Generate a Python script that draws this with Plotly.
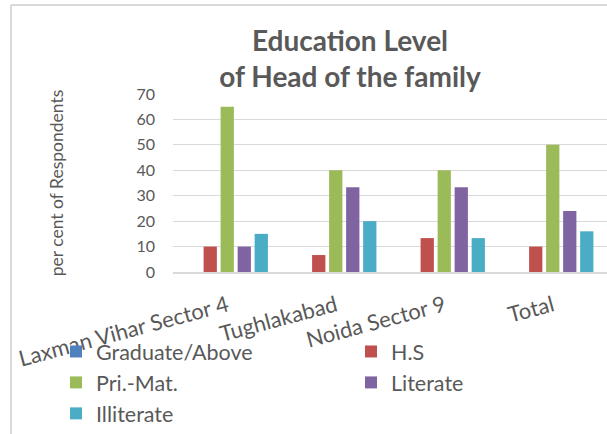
import plotly.graph_objects as go

categories = ["Laxman Vihar Sector 4", "Tughlakabad", "Noida Sector 9", "Total"]
graduate_above = [0, 0, 0, 0]
hs = [10, 6.67, 13.33, 10]
pri_mat = [65, 40, 40, 50]
literate = [10, 33.33, 33.33, 24]
illiterate = [15, 20, 13.33, 16]
y_ticks = [0, 10, 20, 30, 40, 50, 60, 70]

series = [
    ("Graduate/Above", graduate_above, "#4F81BD", "legend"),
    ("H.S", hs, "#C0504D", "legend2"),
    ("Pri.-Mat.", pri_mat, "#9BBB59", "legend"),
    ("Literate", literate, "#8064A2", "legend2"),
    ("Illiterate", illiterate, "#4BACC6", "legend"),
]

FONT = "Lato, Carlito, Calibri, sans-serif"
GREY = "#595959"
W, H = 607, 434
L, R, T, B = 173, 0, 94, 162
pw, ph = W - L - R, H - T - B

fig = go.Figure()
for name, vals, color, lg in series:
    fig.add_trace(go.Bar(name=name, x=categories, y=vals, marker_color=color,
                         marker_line_width=0, legend=lg))

def px_x(px):
    return (px - L) / pw

def px_y(py):
    return (H - B - py) / ph

fig.update_layout(
    width=W, height=H,
    margin=dict(l=L, r=R, t=T, b=B, autoexpand=False),
    paper_bgcolor="white", plot_bgcolor="white",
    barmode="group", bargap=0.216, bargroupgap=0.22,
    font=dict(family=FONT, color=GREY),
    title=dict(text="Education Level<br>of Head of the family",
               font=dict(family=FONT, size=28, color=GREY, weight="bold"),
               x=350 / W, xanchor="center", y=1 - 51 / H, yanchor="middle",
               xref="container", yref="container"),
    xaxis=dict(showline=True, linecolor="#d9d9d9", linewidth=1.5,
               tickangle=-15, tickfont=dict(size=22, color=GREY),
               ticks="", showgrid=False, ticklabelstandoff=11,
               automargin=False),
    yaxis=dict(range=[0, 70], tickvals=y_ticks, showline=False,
               gridcolor="#d9d9d9", gridwidth=1.3, zeroline=False,
               tickfont=dict(size=16, color=GREY), ticklabelstandoff=17,
               automargin=False,
               title=dict(text="per cent of Respondents",
                          font=dict(size=17.5, color=GREY), standoff=68)),
    legend=dict(orientation="v", x=px_x(56), xanchor="left", y=px_y(331),
                yanchor="top", font=dict(size=21.5, color=GREY),
                bgcolor="rgba(0,0,0,0)"),
    legend2=dict(orientation="v", x=px_x(351), xanchor="left", y=px_y(331),
                 yanchor="top", font=dict(size=21.5, color=GREY),
                 bgcolor="rgba(0,0,0,0)"),
    shapes=[
        dict(type="line", xref="paper", yref="paper",
             x0=px_x(11), x1=px_x(11), y0=px_y(5), y1=px_y(440),
             line=dict(color="#d9d9d9", width=2)),
        dict(type="line", xref="paper", yref="paper",
             x0=px_x(11), x1=px_x(610), y0=px_y(5), y1=px_y(5),
             line=dict(color="#d9d9d9", width=2)),
    ],
)

fig.write_html("out.html",
               config={"displayModeBar": False},
               post_script="document.body.style.margin='0';"
                           "document.body.style.overflow='hidden';")
